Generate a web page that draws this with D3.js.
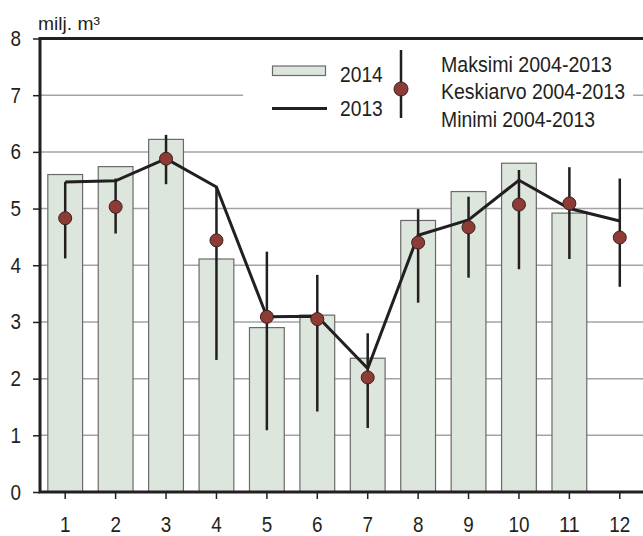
<!DOCTYPE html>
<html lang="fi">
<head>
<meta charset="utf-8">
<script src="https://cdnjs.cloudflare.com/ajax/libs/d3/7.8.5/d3.min.js"></script>
<style>
  body { margin: 0; background: #fff; }
  svg { display: block; font-family: "Liberation Sans", Arial, sans-serif; }
</style>
</head>
<body>
<svg width="643" height="536"></svg>
<script>
// data
var months = [1, 2, 3, 4, 5, 6, 7, 8, 9, 10, 11, 12];
var v2014 = [5.60, 5.74, 6.22, 4.11, 2.90, 3.12, 2.36, 4.79, 5.30, 5.80, 4.92, null];
var v2013 = [5.47, 5.49, 5.88, 5.38, 3.09, 3.10, 2.18, 4.53, 4.80, 5.50, 5.00, 4.78];
var avg = [4.83, 5.03, 5.88, 4.44, 3.09, 3.05, 2.02, 4.40, 4.67, 5.07, 5.09, 4.49];
var maxV = [5.47, 5.53, 6.30, 5.38, 4.24, 3.83, 2.80, 4.99, 5.21, 5.68, 5.73, 5.53];
var minV = [4.12, 4.56, 5.43, 2.33, 1.09, 1.42, 1.13, 3.34, 3.78, 3.93, 4.11, 3.62];
var yTicks = [0, 1, 2, 3, 4, 5, 6, 7, 8];

var svg = d3.select("svg");
var plotL = 40, plotR = 645, plotT = 38.5, plotB = 492;
var ink = "#231f20";
// the original uses a narrow face; squeeze Liberation Sans to the same width
var narrow = function(sel, perChar) {
    sel.attr("lengthAdjust", "spacingAndGlyphs")
       .attr("textLength", function() { return this.textContent.length * perChar; });
};

var x = d3.scaleBand().domain(months).range([plotL, plotR])
    .paddingInner(0.31).paddingOuter(0.155);
var y = d3.scaleLinear().domain([0, 8]).range([plotB, plotT]);
var cx = function(m) { return x(m) + x.bandwidth() / 2; };

// gridlines
svg.append("g").selectAll("line")
    .data(yTicks.filter(function(d) { return d > 0 && d < 8; }))
    .enter().append("line")
    .attr("x1", plotL).attr("x2", 643)
    .attr("y1", function(d) { return y(d); })
    .attr("y2", function(d) { return y(d); })
    .attr("stroke", "#a3a3a3").attr("stroke-width", 1.5);

// bars 2014
svg.append("g").selectAll("rect")
    .data(months.filter(function(m, i) { return v2014[i] != null; }))
    .enter().append("rect")
    .attr("x", function(m) { return x(m); })
    .attr("y", function(m) { return y(v2014[m - 1]); })
    .attr("width", x.bandwidth())
    .attr("height", function(m) { return plotB - y(v2014[m - 1]); })
    .attr("fill", "#dce6dc")
    .attr("stroke", "#6a6a6a").attr("stroke-width", 1.2);

// 2013 line
var line = d3.line()
    .x(function(d, i) { return cx(months[i]); })
    .y(function(d) { return y(d); });
svg.append("path").datum(v2013)
    .attr("d", line)
    .attr("fill", "none")
    .attr("stroke", ink).attr("stroke-width", 3)
    .attr("stroke-linejoin", "miter");

// min-max whiskers
svg.append("g").selectAll("line")
    .data(months)
    .enter().append("line")
    .attr("x1", cx).attr("x2", cx)
    .attr("y1", function(m) { return y(maxV[m - 1]); })
    .attr("y2", function(m) { return y(minV[m - 1]); })
    .attr("stroke", ink).attr("stroke-width", 2.5);

// mean dots
svg.append("g").selectAll("circle")
    .data(months)
    .enter().append("circle")
    .attr("cx", cx)
    .attr("cy", function(m) { return y(avg[m - 1]); })
    .attr("r", 6.5)
    .attr("fill", "#8c3b35")
    .attr("stroke", "#3a2020").attr("stroke-width", 1);

// legend (white box hides gridline at 7)
var lg = svg.append("g");
lg.append("rect").attr("x", 243).attr("y", 42).attr("width", 390).attr("height", 100)
    .attr("fill", "#fff");
lg.append("rect").attr("x", 272.5).attr("y", 66).attr("width", 53).attr("height", 9.5)
    .attr("fill", "#dce6dc").attr("stroke", "#6a6a6a").attr("stroke-width", 1.2);
lg.append("line").attr("x1", 272).attr("x2", 327).attr("y1", 108.5).attr("y2", 108.5)
    .attr("stroke", ink).attr("stroke-width", 3);
lg.append("text").attr("x", 340).attr("y", 81.5).attr("font-size", 22).attr("fill", ink)
    .text("2014").call(narrow, 10.7);
lg.append("text").attr("x", 340).attr("y", 116).attr("font-size", 22).attr("fill", ink)
    .text("2013").call(narrow, 10.7);
lg.append("line").attr("x1", 401).attr("x2", 401).attr("y1", 50).attr("y2", 118)
    .attr("stroke", ink).attr("stroke-width", 2.5);
lg.append("circle").attr("cx", 401).attr("cy", 89).attr("r", 7)
    .attr("fill", "#8c3b35").attr("stroke", "#3a2020").attr("stroke-width", 1);
var legendTexts = ["Maksimi 2004-2013", "Keskiarvo 2004-2013", "Minimi 2004-2013"];
var legendWidths = [171, 184, 154];
lg.selectAll("text.lt").data(legendTexts).enter().append("text")
    .attr("class", "lt")
    .attr("x", 441).attr("y", function(d, i) { return 71.5 + i * 27.5; })
    .attr("font-size", 22).attr("fill", ink)
    .attr("lengthAdjust", "spacingAndGlyphs")
    .attr("textLength", function(d, i) { return legendWidths[i]; })
    .text(function(d) { return d; });

// axes
var yAxis = svg.append("g")
    .attr("transform", "translate(" + plotL + ",0)")
    .call(d3.axisLeft(y).tickValues(yTicks).tickSize(7).tickPadding(12));
yAxis.select(".domain").remove();
yAxis.selectAll(".tick line").attr("stroke", ink).attr("stroke-width", 1.5);
yAxis.selectAll(".tick text").attr("font-size", 22).attr("fill", ink)
    .attr("font-family", "Liberation Sans, Arial, sans-serif")
    .call(narrow, 10.5);

var xAxis = svg.append("g")
    .attr("transform", "translate(0," + plotB + ")")
    .call(d3.axisBottom(x).tickSize(7).tickPadding(17));
xAxis.select(".domain").remove();
xAxis.selectAll(".tick line").attr("stroke", ink).attr("stroke-width", 1.5);
xAxis.selectAll(".tick text").attr("font-size", 22).attr("fill", ink)
    .attr("font-family", "Liberation Sans, Arial, sans-serif")
    .call(narrow, 10.5);

// frame: left, bottom, top
svg.append("path")
    .attr("d", "M643," + plotT + "H" + plotL + "V" + plotB + "H643")
    .attr("fill", "none").attr("stroke", ink).attr("stroke-width", 3);

svg.append("text").attr("x", 38).attr("y", 30).attr("font-size", 19)
    .attr("fill", ink).attr("lengthAdjust", "spacingAndGlyphs").attr("textLength", 62)
    .text("milj. m³");
</script>
</body>
</html>
